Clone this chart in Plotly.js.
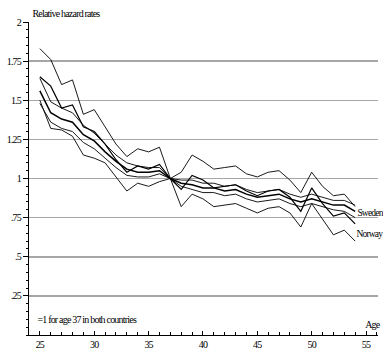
<!DOCTYPE html>
<html>
<head>
<meta charset="utf-8">
<script src="https://cdn.plot.ly/plotly-3.0.1.min.js"></script>
<style>
html,body{margin:0;padding:0;background:#fff;}
#chart{width:383px;height:349px;}
.main-svg text{letter-spacing:-0.8px;}
</style>
</head>
<body>
<div id="chart"></div>
<script>
var ages = [25,26,27,28,29,30,31,32,33,34,35,36,37,38,39,40,41,42,43,44,45,46,47,48,49,50,51,52,53,54];

var swedenEst = [1.56,1.42,1.38,1.36,1.28,1.24,1.17,1.11,1.06,1.04,1.04,1.05,1.00,0.97,0.96,0.94,0.94,0.92,0.93,0.90,0.88,0.89,0.90,0.87,0.85,0.87,0.85,0.83,0.83,0.79];
var swedenCI1 = [1.64,1.49,1.45,1.42,1.34,1.29,1.22,1.15,1.10,1.08,1.07,1.07,1.00,0.95,0.93,0.91,0.91,0.89,0.90,0.87,0.85,0.86,0.87,0.84,0.82,0.84,0.82,0.80,0.79,0.75];
var swedenCI2 = [1.48,1.36,1.32,1.30,1.23,1.19,1.13,1.07,1.02,1.01,1.01,1.03,1.00,0.99,0.99,0.97,0.97,0.95,0.96,0.93,0.91,0.92,0.93,0.90,0.88,0.90,0.88,0.86,0.86,0.83];

var norwayEst = [1.65,1.59,1.45,1.47,1.33,1.30,1.22,1.12,1.04,1.08,1.06,1.09,1.00,0.93,1.02,0.99,0.94,0.95,0.96,0.92,0.89,0.92,0.93,0.88,0.79,0.94,0.84,0.76,0.78,0.71];
var norwayCI1 = [1.83,1.76,1.60,1.63,1.41,1.44,1.33,1.22,1.14,1.19,1.17,1.20,1.00,0.82,0.90,0.87,0.82,0.83,0.84,0.81,0.78,0.81,0.82,0.78,0.69,0.84,0.74,0.64,0.67,0.60];
var norwayCI2 = [1.50,1.32,1.31,1.27,1.15,1.13,1.10,1.01,0.92,0.97,0.95,0.98,1.00,1.04,1.15,1.11,1.06,1.07,1.08,1.03,1.01,1.04,1.05,0.99,0.91,1.04,0.95,0.89,0.90,0.82];

var yTickVals = [0.25,0.5,0.75,1,1.25,1.5,1.75,2];
var yTickText = ['.25','.5','.75','1','1.25','1.5','1.75','2'];
var xTickVals = [25,30,35,40,45,50,55];

function ln(y, w){
  return {x: ages, y: y, type:'scatter', mode:'lines', line:{color:'#000', width:w}, hoverinfo:'skip', showlegend:false};
}
var data = [
  ln(norwayCI1, 0.9), ln(norwayCI2, 0.9), ln(norwayEst, 1.2),
  ln(swedenCI1, 0.9), ln(swedenCI2, 0.9), ln(swedenEst, 1.5)
];

var fam = '"Liberation Serif", "Times New Roman", serif';
var fnt = {family:fam, size:10, color:'#000'};
var fntS = {family:fam, size:9.5, color:'#000'};

var layout = {
  width:383, height:349,
  margin:{l:29, r:5, t:22, b:14},
  paper_bgcolor:'#fff', plot_bgcolor:'#fff',
  showlegend:false,
  font: fnt,
  xaxis:{
    range:[24,56.1], showgrid:false, zeroline:false,
    showline:true, linecolor:'#000', linewidth:1,
    tickvals:xTickVals, ticks:'inside', ticklen:4, tickcolor:'#000', tickwidth:1,
    minor:{dtick:1, tick0:24, ticks:'inside', ticklen:3, tickcolor:'#000', showgrid:false},
    tickfont:{family:fam, size:10, color:'#000'}
  },
  yaxis:{
    range:[0,2], zeroline:false,
    showgrid:true, gridcolor:'#a6a6a6', gridwidth:1.5,
    showline:true, linecolor:'#000', linewidth:1,
    tickvals:yTickVals, ticktext:yTickText,
    ticks:'outside', ticklen:5, tickcolor:'#000', tickwidth:1,
    minor:{dtick:0.05, tick0:0, ticks:'outside', ticklen:2, tickcolor:'#000', showgrid:false},
    tickfont:{family:fam, size:10, color:'#000'}
  },
  annotations:[
    {text:'Relative hazard rates', xref:'paper', yref:'paper', x:0.1046, y:1.027, xanchor:'center', yanchor:'middle', showarrow:false, font:fnt},
    {text:'=1 for age 37 in both countries', xref:'paper', yref:'paper', x:0.165, y:0.051, xanchor:'center', yanchor:'middle', showarrow:false, font:fnt},
    {text:'Age', xref:'paper', yref:'paper', x:0.983, y:0.035, xanchor:'center', yanchor:'middle', showarrow:false, font:fnt},
    {text:'Sweden', xref:'x', yref:'y', x:55.35, y:0.78, xanchor:'center', yanchor:'middle', showarrow:false, font:fntS},
    {text:'Norway', xref:'x', yref:'y', x:55.35, y:0.645, xanchor:'center', yanchor:'middle', showarrow:false, font:fntS}
  ]
};

Plotly.newPlot('chart', data, layout, {staticPlot:true, displayModeBar:false});
</script>
</body>
</html>
